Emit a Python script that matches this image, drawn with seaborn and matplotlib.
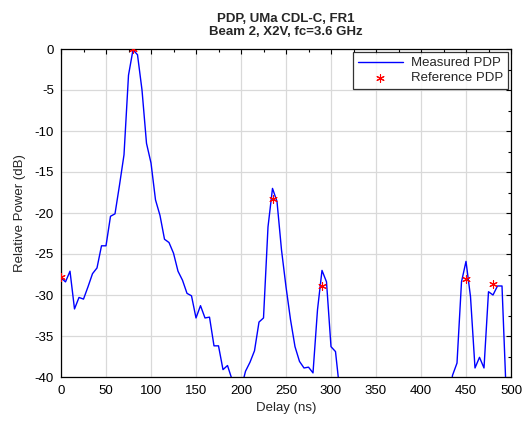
import numpy as np
import pandas as pd
import matplotlib
matplotlib.use("Agg")
import matplotlib.pyplot as plt
import seaborn as sns
from matplotlib.ticker import MultipleLocator

# Measured PDP sampled every 5 ns (values below -40 dB fall off the axis)
delay_ns = list(range(0, 500, 5))
measured_db = [
    -27.9, -28.4, -27.1, -31.7, -30.3, -30.5, -29.0, -27.4, -26.7, -24.0,   # 0-45
    -24.0, -20.4, -20.1, -16.6, -12.9, -3.2, -0.1, -0.7, -5.0, -11.5,      # 50-95
    -13.9, -18.4, -20.3, -23.2, -23.6, -24.9, -27.1, -28.2, -29.8, -30.1,  # 100-145
    -32.8, -31.3, -32.8, -32.7, -36.2, -36.2, -39.1, -38.6, -40.3, -43.0,  # 150-195
    -41.5, -39.3, -38.2, -36.8, -33.3, -32.8, -21.7, -17.0, -18.6, -24.5,  # 200-245
    -29.0, -33.0, -36.3, -38.1, -38.9, -38.8, -39.5, -31.8, -27.0, -28.4,  # 250-295
    -36.3, -36.9, -42.0, -45.0, -45.0, -45.0, -45.0, -45.0, -45.0, -45.0,  # 300-345
    -45.0, -45.0, -45.0, -45.0, -45.0, -45.0, -45.0, -45.0, -45.0, -45.0,  # 350-395
    -45.0, -45.0, -45.0, -45.0, -45.0, -45.0, -44.0, -39.8, -38.3, -28.4,  # 400-445
    -25.9, -30.2, -38.9, -37.6, -38.9, -29.6, -30.0, -28.9, -28.9, -43.0,  # 450-495
]
ref_delay_ns = [0, 80, 235, 290, 450, 480]
ref_db = [-27.8, 0.0, -18.3, -28.9, -28.1, -28.7]

x_ticks = [0, 50, 100, 150, 200, 250, 300, 350, 400, 450, 500]
y_ticks = [0, -5, -10, -15, -20, -25, -30, -35, -40]

meas = pd.DataFrame({"Delay (ns)": delay_ns, "Relative Power (dB)": measured_db})
ref = pd.DataFrame({"Delay (ns)": ref_delay_ns, "Relative Power (dB)": ref_db})

sns.set_style("white")
plt.rcParams["font.family"] = ["Liberation Sans", "DejaVu Sans"]

fig = plt.figure(figsize=(5.26, 4.21), dpi=100)
ax = fig.add_axes([61 / 526, 1 - 377 / 421, 450 / 526, 328 / 421])

sns.lineplot(data=meas, x="Delay (ns)", y="Relative Power (dB)", ax=ax,
             color="#0000ff", linewidth=1.0, label="Measured PDP")
sns.scatterplot(data=ref, x="Delay (ns)", y="Relative Power (dB)", ax=ax,
                color="red", marker=(6, 2, 0), s=30, linewidth=0.8,
                label="Reference PDP", zorder=5, edgecolor="red")

ax.set_xlim(0, 500)
ax.set_ylim(-40, 0)
ax.set_xticks(x_ticks)
ax.set_yticks(y_ticks)
ax.set_xticklabels([str(v) for v in x_ticks])
ax.set_yticklabels([str(v) for v in y_ticks])
ax.xaxis.set_minor_locator(MultipleLocator(25))
ax.yaxis.set_minor_locator(MultipleLocator(2.5))
ax.grid(True, which="major", color="#d9d9d9", linewidth=0.9)
ax.set_axisbelow(True)
ax.tick_params(which="both", direction="in", top=True, right=True,
               labelsize=9.5, colors="black", length=3.5, width=0.8)
ax.tick_params(which="minor", length=2)
ax.tick_params(axis="x", pad=6)
ax.tick_params(axis="y", pad=5)
for s in ax.spines.values():
    s.set_visible(True)
    s.set_color("black")
    s.set_linewidth(0.9)

ax.set_xlabel("Delay (ns)", fontsize=9.5, labelpad=3)
ax.set_ylabel("Relative Power (dB)", fontsize=9.5, labelpad=6)
ax.set_title("PDP, UMa CDL-C, FR1\nBeam 2, X2V, fc=3.6 GHz",
             fontsize=9.5, fontweight="bold", pad=10, linespacing=1.15)

leg = ax.legend(loc="upper right", fontsize=9.5, frameon=True, fancybox=False,
                borderaxespad=0.25, handlelength=3.4, borderpad=0.35,
                labelspacing=0.2, handletextpad=0.6)
leg.get_frame().set_edgecolor("black")
leg.get_frame().set_linewidth(0.9)

fig.savefig("out.png", dpi=100)
